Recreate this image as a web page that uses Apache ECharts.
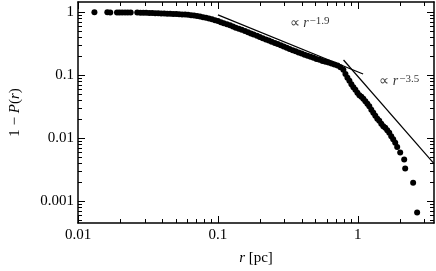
<!DOCTYPE html>
<html>
<head>
<meta charset="utf-8">
<script src="https://cdn.jsdelivr.net/npm/echarts@6/dist/echarts.min.js"></script>
<style>html,body{margin:0;padding:0;background:#fff}#c{width:436px;height:271px}</style>
</head>
<body>
<div id="c"></div>
<script>
// ---- data ----
const radius = [
  0.0131, 0.0162, 0.0170, 0.0190, 0.0198, 0.0207, 0.0217, 0.0227, 0.0238,
  0.0265, 0.0279, 0.0293, 0.0307, 0.0323, 0.0339, 0.0356, 0.0374, 0.0393, 0.0413,
  0.0434, 0.0456, 0.0479, 0.0503, 0.0528, 0.0555, 0.0583, 0.0612, 0.0643, 0.0675,
  0.0709, 0.0745, 0.0783, 0.0822, 0.0863, 0.0907, 0.0953, 0.100, 0.105, 0.110,
  0.116, 0.122, 0.128, 0.134, 0.141, 0.148, 0.156, 0.164, 0.172, 0.180,
  0.190, 0.199, 0.209, 0.220, 0.231, 0.242, 0.255, 0.267, 0.281, 0.295,
  0.310, 0.325, 0.342, 0.359, 0.377, 0.396, 0.416, 0.437, 0.459, 0.482,
  0.506, 0.532, 0.559, 0.587, 0.617, 0.648, 0.680, 0.715, 0.751,
  0.788, 0.815, 0.842, 0.870, 0.899, 0.929, 0.960, 0.992, 1.025, 1.059,
  1.094, 1.131, 1.169, 1.207, 1.248, 1.289, 1.332, 1.377, 1.422, 1.470,
  1.519, 1.569, 1.622, 1.676, 1.732, 1.789, 1.849,
  1.910, 2.007, 2.143, 2.178, 2.483, 2.652
];
const survival = [
  1.000, 0.999, 0.998, 0.997, 0.996, 0.996, 0.995, 0.995, 0.994,
  0.993, 0.989, 0.986, 0.982, 0.978, 0.973, 0.969, 0.966, 0.961,
  0.957, 0.952, 0.947, 0.943, 0.938, 0.935, 0.928, 0.920, 0.913, 0.903,
  0.890, 0.875, 0.858, 0.839, 0.818, 0.800, 0.777, 0.750, 0.726, 0.699,
  0.674, 0.648, 0.622, 0.596, 0.570, 0.550, 0.528, 0.506, 0.484, 0.463,
  0.443, 0.424, 0.406, 0.389, 0.372, 0.356, 0.341, 0.326, 0.313, 0.299,
  0.286, 0.274, 0.262, 0.251, 0.240, 0.230, 0.221, 0.212, 0.204, 0.197,
  0.190, 0.182, 0.176, 0.169, 0.164, 0.159, 0.154, 0.149, 0.143, 0.134,
  0.1219, 0.1053, 0.0910, 0.0816, 0.0718, 0.0644, 0.0588, 0.0527, 0.0481, 0.0455,
  0.0423, 0.0386, 0.0353, 0.0322, 0.0283, 0.0254, 0.0228, 0.0204, 0.0190, 0.0170,
  0.0155, 0.0147, 0.0134, 0.0122, 0.0108, 0.00966, 0.00851,
  0.00724, 0.00592, 0.00460, 0.00329, 0.00197, 0.00066
];
const fitInnerR = [0.1, 1.09];
const fitInnerV = [0.91, 0.105];
const fitOuterR = [0.79, 3.5];
const fitOuterV = [0.175, 0.00395];
const noteR = [0.452, 1.974];
const noteV = [0.677, 0.0816];
const noteText = ['{m|∝ }{r|r}{s|−1.9}', '{m|∝ }{r|r}{s|−3.5}'];

const xMajor = [0.01, 0.1, 1];
const xMajorLabels = ['0.01', '0.1', '1'];
const xMinor = [0.02,0.03,0.04,0.05,0.06,0.07,0.08,0.09,0.2,0.3,0.4,0.5,0.6,0.7,0.8,0.9,2,3];
const yMajor = [0.001, 0.01, 0.1, 1];
const yMajorLabels = ['0.001', '0.01', '0.1', '1'];
const yMinor = [0.0005,0.0006,0.0007,0.0008,0.0009,0.002,0.003,0.004,0.005,0.006,0.007,0.008,0.009,
                0.02,0.03,0.04,0.05,0.06,0.07,0.08,0.09,0.2,0.3,0.4,0.5,0.6,0.7,0.8,0.9];
const xRange = [0.01, 3.5];
const yRange = [0.00045, 1.46];

// ---- chart ----
const L = v => Math.log10(v);
const FONT = "'Liberation Serif', 'Times New Roman', serif";
const INK = '#000';

function labelFor(majors, labels) {
  return function (v) {
    for (let i = 0; i < majors.length; i++) if (Math.abs(L(majors[i]) - v) < 1e-6) return labels[i];
    return '';
  };
}

function makeAxis(opts) {
  const a = {
    type: 'value',
    gridIndex: 0,
    position: opts.position,
    min: opts.range[0],
    max: opts.range[1],
    splitLine: { show: false },
    axisLine: { show: opts.line, onZero: false, lineStyle: { color: INK, width: 1.5 } },
    axisTick: { show: true, inside: true, length: opts.len, customValues: opts.ticks, lineStyle: { color: INK, width: 1 } },
    axisLabel: { show: false },
    z: 5
  };
  if (opts.labels) {
    a.axisLabel = {
      show: true, customValues: opts.ticks, formatter: opts.labels,
      fontFamily: FONT, fontSize: 15, color: INK, margin: opts.margin
    };
  }
  return a;
}

const xr = [L(xRange[0]), L(xRange[1])];
const yr = [L(yRange[0]), L(yRange[1])];

const xAxes = [
  Object.assign(makeAxis({ position: 'bottom', range: xr, line: true, len: 7, ticks: xMajor.map(L), labels: labelFor(xMajor, xMajorLabels), margin: 5 }), {
    name: '{i|r} [pc]', nameLocation: 'middle', nameGap: 28,
    nameTextStyle: { fontFamily: FONT, fontSize: 15, color: INK, rich: { i: { fontFamily: FONT, fontSize: 15, fontStyle: 'italic', color: INK } } }
  }),
  makeAxis({ position: 'bottom', range: xr, line: false, len: 4, ticks: xMinor.map(L) }),
  makeAxis({ position: 'top', range: xr, line: true, len: 7, ticks: xMajor.map(L) }),
  makeAxis({ position: 'top', range: xr, line: false, len: 4, ticks: xMinor.map(L) })
];
const yAxes = [
  Object.assign(makeAxis({ position: 'left', range: yr, line: true, len: 7, ticks: yMajor.map(L), labels: labelFor(yMajor, yMajorLabels), margin: 4 }), {
    name: '1 − {i|P}({i|r})', nameLocation: 'middle', nameGap: 55,
    nameTextStyle: { fontFamily: FONT, fontSize: 15, color: INK, rich: { i: { fontFamily: FONT, fontSize: 15, fontStyle: 'italic', color: INK } } }
  }),
  makeAxis({ position: 'left', range: yr, line: false, len: 4, ticks: yMinor.map(L) }),
  makeAxis({ position: 'right', range: yr, line: true, len: 7, ticks: yMajor.map(L) }),
  makeAxis({ position: 'right', range: yr, line: false, len: 4, ticks: yMinor.map(L) })
];

const chart = echarts.init(document.getElementById('c'), null, { renderer: 'canvas' });
chart.setOption({
  animation: false,
  backgroundColor: '#fff',
  grid: { left: 77, right: 2, top: 2, bottom: 47.5, containLabel: false },
  xAxis: xAxes,
  yAxis: yAxes,
  series: [
    {
      type: 'scatter', xAxisIndex: 0, yAxisIndex: 0,
      symbol: 'circle', symbolSize: 6,
      itemStyle: { color: INK, opacity: 1 },
      data: radius.map((r, i) => [L(r), L(survival[i])]),
      silent: true
    },
    {
      type: 'line', xAxisIndex: 0, yAxisIndex: 0, showSymbol: false, symbol: 'none',
      lineStyle: { color: INK, width: 1.2 },
      data: fitInnerR.map((r, i) => [L(r), L(fitInnerV[i])]),
      silent: true
    },
    {
      type: 'line', xAxisIndex: 0, yAxisIndex: 0, showSymbol: false, symbol: 'none',
      lineStyle: { color: INK, width: 1.2 },
      data: fitOuterR.map((r, i) => [L(r), L(fitOuterV[i])]),
      silent: true
    },
    {
      type: 'scatter', xAxisIndex: 0, yAxisIndex: 0, symbolSize: 0,
      silent: true,
      data: noteR.map((r, i) => ({ value: [L(r), L(noteV[i])], label: { formatter: noteText[i] } })),
      label: {
        show: true, position: 'inside', align: 'center', verticalAlign: 'middle',
        rich: {
          m: { fontFamily: FONT, fontSize: 14, color: INK, lineHeight: 15, padding: [5, 0, 0, 0], verticalAlign: 'bottom' },
          r: { fontFamily: FONT, fontSize: 14, fontStyle: 'italic', color: INK, lineHeight: 15, padding: [5, 0, 0, 0], verticalAlign: 'bottom' },
          s: { fontFamily: FONT, fontSize: 11, color: INK, lineHeight: 12, padding: [0, 0, 0, 1], verticalAlign: 'top' }
        }
      }
    }
  ]
});
</script>
</body>
</html>
